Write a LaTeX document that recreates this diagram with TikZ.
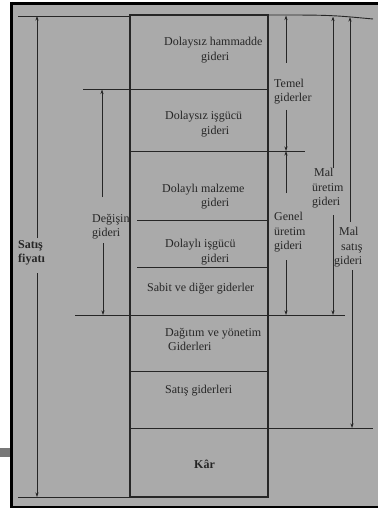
\documentclass[tikz,border=0pt]{standalone}
\usepackage{fontspec}
\setmainfont{Liberation Serif}
\usetikzlibrary{arrows.meta}
\definecolor{paper}{RGB}{170,170,170}
\definecolor{ink}{RGB}{38,38,38}
\definecolor{tab}{RGB}{120,120,120}
\begin{document}
\begin{tikzpicture}[x=1pt,y=-1pt,
  rule/.style={draw=ink,line width=1.1pt},
  hline/.style={draw=ink,line width=0.9pt},
  arr/.style={draw=ink,line width=0.7pt,-{Stealth[length=4.5pt,width=3pt]}},
  lbl/.style={anchor=base west,inner sep=0pt,text=ink,font=\fontsize{12}{14}\selectfont},
  blbl/.style={anchor=base west,inner sep=0pt,text=ink,font=\fontsize{12}{14}\selectfont\bfseries}]
\useasboundingbox (0,0) rectangle (378,508);
% page / photo background
\fill[white] (0,0) rectangle (378,508);
\fill[paper] (11,2) rectangle (378,508);
\fill[tab] (0,448) rectangle (11,457);
\draw[black,line width=3pt] (11.5,2) -- (11.5,508);
\draw[black,line width=2.5pt] (10,3.5) -- (378,3.5);
\draw[black,line width=2pt] (10,507) -- (378,507);

% column box
\coordinate (boxTL) at (130,15);
\coordinate (boxBR) at (268,497);
\draw[rule] (boxTL) rectangle (boxBR);

% horizontal lines
\coordinate (topL) at (18,16);
\coordinate (topR1) at (268,15);
\coordinate (topR2) at (373,19);
\draw[hline] (topL) -- (130,16);
\draw[hline] (topR1) .. controls (330,15) .. (topR2);
\draw[hline] (83,89.5) -- (268,89.5);
\draw[hline] (130,151) -- (305,151);
\draw[hline] (137,220) -- (268,220);
\draw[hline] (137,267) -- (268,267);
\draw[hline] (75,315) -- (345,315);
\draw[hline] (130,371) -- (268,371);
\draw[hline] (130,428) -- (373,428);
\draw[hline] (18,497) -- (268,497);

% box labels
\node[lbl] (a1) at (164,46) {Dolaysız hammadde};
\node[lbl] (a2) at (201,61) {gideri};
\node[lbl] (b1) at (165,120) {Dolaysız işgücü};
\node[lbl] (b2) at (201,134) {gideri};
\node[lbl] (c1) at (162,192) {Dolaylı malzeme};
\node[lbl] (c2) at (201,206) {gideri};
\node[lbl] (d1) at (165,247) {Dolaylı işgücü};
\node[lbl] (d2) at (201,262) {gideri};
\node[lbl] (e1) at (147,291) {Sabit ve diğer giderler};
\node[lbl] (f1) at (165,336) {Dağıtım ve yönetim};
\node[lbl] (f2) at (168,350) {Giderleri};
\node[lbl] (g1) at (165,393) {Satış giderleri};
\node[blbl] (h1) at (194,468) {Kâr};

% side labels
\node[blbl] (sf1) at (18,248) {Satış};
\node[blbl] (sf2) at (18,262) {fiyatı};
\node[lbl] (dg1) at (92,222) {Değişin};
\node[lbl] (dg2) at (92,236) {gideri};
\node[lbl] (tg1) at (274,88) {Temel};
\node[lbl] (tg2) at (274,102) {giderler};
\node[lbl] (gu1) at (274,220) {Genel};
\node[lbl] (gu2) at (274,235) {üretim};
\node[lbl] (gu3) at (274,249) {gideri};
\node[lbl] (mu1) at (314,176) {Mal};
\node[lbl] (mu2) at (312,191) {üretim};
\node[lbl] (mu3) at (312,205) {gideri};
\node[lbl] (ms1) at (339,235) {Mal};
\node[lbl] (ms2) at (341,250) {satış};
\node[lbl] (ms3) at (334,264) {gideri};

% arrow end coordinates
\coordinate (sfU0) at (37,238);  \coordinate (sfU1) at (37,16);
\coordinate (sfD0) at (37,273);  \coordinate (sfD1) at (37,497);
\coordinate (dgU0) at (102,197); \coordinate (dgU1) at (102,89.5);
\coordinate (dgD0) at (103,243); \coordinate (dgD1) at (103,315);
\coordinate (tgU0) at (286,63);  \coordinate (tgU1) at (286,15.5);
\coordinate (tgD0) at (286,110); \coordinate (tgD1) at (286,151);
\coordinate (guU0) at (286,193); \coordinate (guU1) at (286,151);
\coordinate (guD0) at (286,260); \coordinate (guD1) at (286,315);
\coordinate (muU0) at (333,168); \coordinate (muU1) at (333,16.5);
\coordinate (muD0) at (333,215); \coordinate (muD1) at (333,315);
\coordinate (msU0) at (350,222); \coordinate (msU1) at (350,17);
\coordinate (msD0) at (352,270); \coordinate (msD1) at (352,428);

\draw[arr] (sfU0) -- (sfU1);
\draw[arr] (sfD0) -- (sfD1);
\draw[arr] (dgU0) -- (dgU1);
\draw[arr] (dgD0) -- (dgD1);
\draw[arr] (tgU0) -- (tgU1);
\draw[arr] (tgD0) -- (tgD1);
\draw[arr] (guU0) -- (guU1);
\draw[arr] (guD0) -- (guD1);
\draw[arr] (muU0) -- (muU1);
\draw[arr] (muD0) -- (muD1);
\draw[arr] (msU0) -- (msU1);
\draw[arr] (msD0) -- (msD1);
\end{tikzpicture}
\end{document}
